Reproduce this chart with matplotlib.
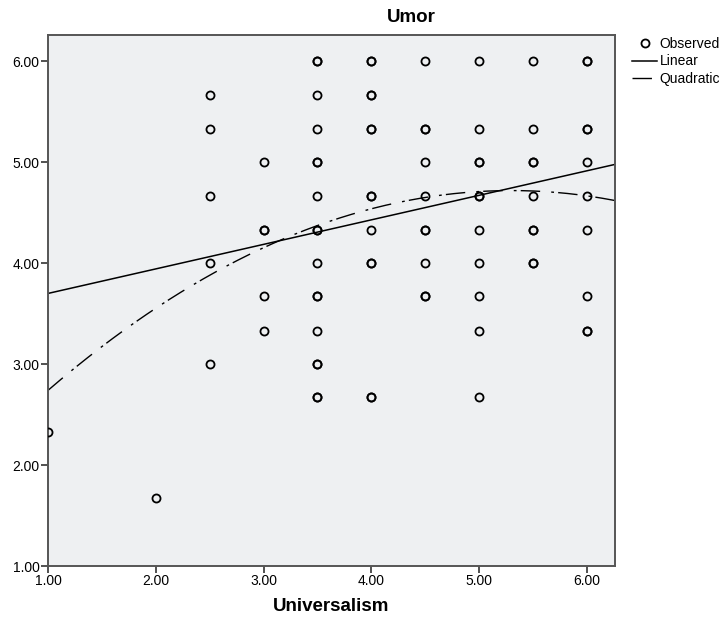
import numpy as np
import matplotlib.pyplot as plt

plt.rcParams['font.family'] = ['Liberation Sans', 'DejaVu Sans']

# observed values (repeated entries = overlapping points)
universalism = [1.0,
                2.0,
                2.5, 2.5, 2.5, 2.5, 2.5,
                3.0, 3.0, 3.0, 3.0, 3.0,
                3.5, 3.5, 3.5, 3.5, 3.5, 3.5, 3.5, 3.5, 3.5, 3.5, 3.5, 3.5, 3.5, 3.5, 3.5, 3.5, 3.5,
                4.0, 4.0, 4.0, 4.0, 4.0, 4.0, 4.0, 4.0, 4.0, 4.0, 4.0, 4.0, 4.0,
                4.5, 4.5, 4.5, 4.5, 4.5, 4.5, 4.5, 4.5, 4.5, 4.5,
                5.0, 5.0, 5.0, 5.0, 5.0, 5.0, 5.0, 5.0, 5.0, 5.0, 5.0,
                5.5, 5.5, 5.5, 5.5, 5.5, 5.5, 5.5, 5.5, 5.5,
                6.0, 6.0, 6.0, 6.0, 6.0, 6.0, 6.0, 6.0, 6.0, 6.0]
umor = [2.33,
        1.67,
        5.67, 5.33, 4.67, 4.00, 3.00,
        5.00, 4.33, 4.33, 3.67, 3.33,
        6.00, 6.00, 5.67, 5.33, 5.00, 5.00, 4.67, 4.33, 4.33, 4.00, 3.67, 3.67, 3.33, 3.00, 3.00, 2.67, 2.67,
        6.00, 6.00, 5.67, 5.67, 5.33, 5.33, 4.67, 4.67, 4.33, 4.00, 4.00, 2.67, 2.67,
        6.00, 5.33, 5.33, 5.00, 4.67, 4.33, 4.33, 4.00, 3.67, 3.67,
        6.00, 5.33, 5.00, 5.00, 4.67, 4.67, 4.33, 4.00, 3.67, 3.33, 2.67,
        6.00, 5.33, 5.00, 5.00, 4.67, 4.33, 4.33, 4.00, 4.00,
        6.00, 6.00, 5.33, 5.33, 5.00, 4.67, 4.33, 3.67, 3.33, 3.33]

# fitted curves (highest power first)
linear_coef = [0.243, 3.457]
quad_coef = [-0.1071, 1.135, 1.712]

ticks = [1, 2, 3, 4, 5, 6]
x_min, x_max = 1.0, 6.26
y_min, y_max = 1.0, 6.26

fig = plt.figure(figsize=(7.21, 6.27), dpi=100)
ax = fig.add_axes([48 / 721, 1 - 566 / 627, (615 - 48) / 721, (566 - 35) / 627])
ax.set_facecolor('#eef0f2')

ax.plot(universalism, umor, 'o', markersize=5.8, markerfacecolor='none',
        markeredgecolor='black', markeredgewidth=1.3, label='Observed', zorder=3)

xs = np.linspace(x_min, x_max, 300)
ax.plot(xs, np.polyval(linear_coef, xs), color='black', lw=1.1, label='Linear')
ax.plot(xs, np.polyval(quad_coef, xs), color='black', lw=1.0,
        linestyle=(0, (14, 8, 2, 3)), label='Quadratic')

ax.set_xlim(x_min, x_max)
ax.set_ylim(y_min, y_max)
ax.set_xticks(ticks)
ax.set_yticks(ticks)
ax.set_xticklabels([f"{t:.2f}" for t in ticks])
ax.set_yticklabels([f"{t:.2f}" for t in ticks])
ax.tick_params(direction='out', length=5, width=1.2, color='#333333', labelsize=10, pad=1)
for s in ax.spines.values():
    s.set_color('#555555')
    s.set_linewidth(1.4)

ax.set_xlabel('Universalism', fontsize=13.5, fontweight='bold', labelpad=7)
fig.text(0.57, 0.972, 'Umor', ha='center', va='center', fontsize=13.5, fontweight='bold')

fig.legend(loc='upper left', bbox_to_anchor=(632 / 721, 1 - 37 / 627), frameon=False,
           fontsize=10, handlelength=1.8, handletextpad=0.2, labelspacing=0.25,
           borderpad=0, borderaxespad=0)

fig.savefig('out.png', dpi=100)
